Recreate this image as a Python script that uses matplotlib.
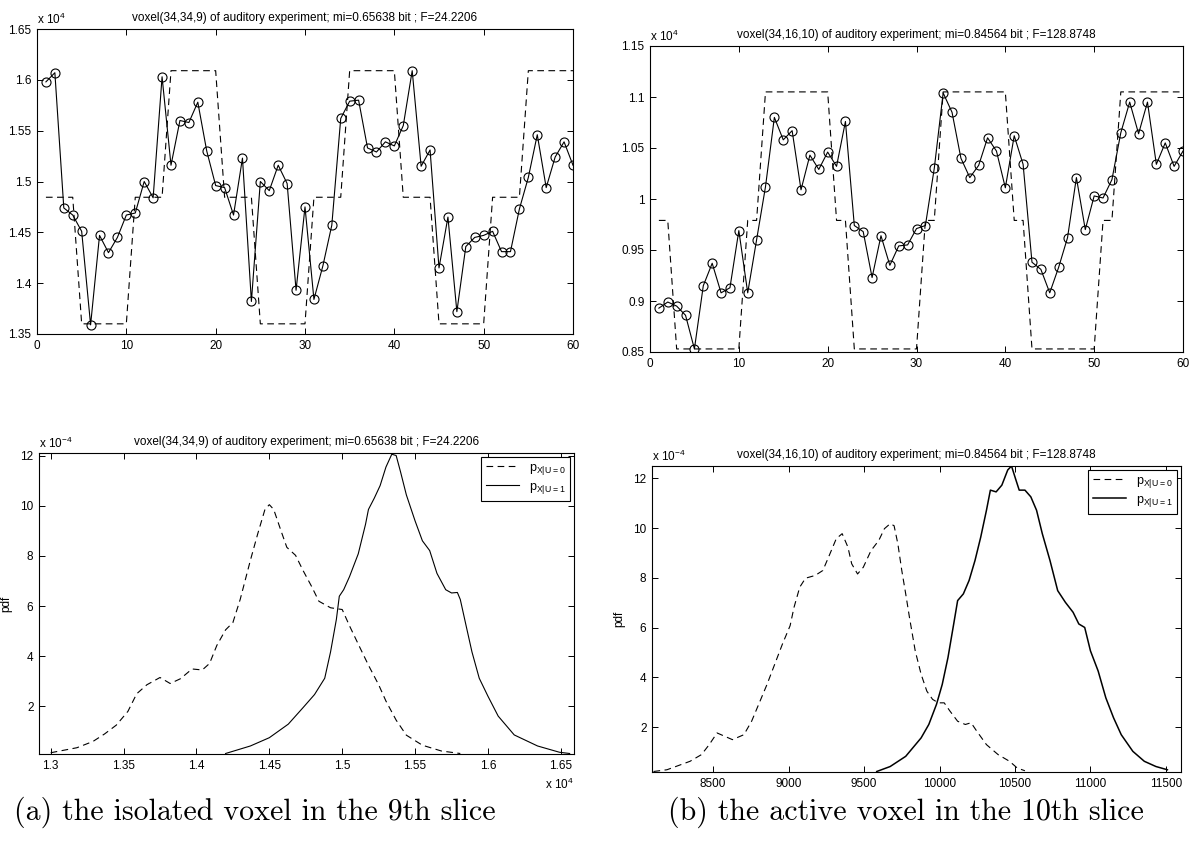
import matplotlib
matplotlib.use('Agg')
import matplotlib.pyplot as plt
from matplotlib.ticker import FuncFormatter, MultipleLocator

# ---------------- data ----------------
scans = list(range(1, 61))

# (a) voxel(34,34,9): time course (x 1e4) and reference function
signal_a = [1.598, 1.607, 1.474, 1.467, 1.451, 1.359, 1.447, 1.430, 1.445, 1.467,
            1.469, 1.500, 1.484, 1.603, 1.516, 1.560, 1.558, 1.578, 1.530, 1.496,
            1.494, 1.467, 1.523, 1.382, 1.500, 1.491, 1.516, 1.498, 1.393, 1.475,
            1.384, 1.417, 1.457, 1.562, 1.579, 1.580, 1.533, 1.529, 1.539, 1.535,
            1.555, 1.609, 1.515, 1.531, 1.415, 1.465, 1.372, 1.436, 1.445, 1.447,
            1.451, 1.431, 1.431, 1.473, 1.504, 1.546, 1.494, 1.524, 1.539, 1.516]
ref_levels_a = [1.3600, 1.4845, 1.6090]
ref_state_a = [1, 1, 1, 1, 0, 0, 0, 0, 0, 0, 1, 1, 1, 1, 2, 2, 2, 2, 2, 2,
               1, 1, 1, 1, 0, 0, 0, 0, 0, 0, 1, 1, 1, 1, 2, 2, 2, 2, 2, 2,
               1, 1, 1, 1, 0, 0, 0, 0, 0, 0, 1, 1, 1, 1, 2, 2, 2, 2, 2, 2]

# (b) voxel(34,16,10)
signal_b = [0.893, 0.899, 0.895, 0.886, 0.853, 0.915, 0.937, 0.908, 0.913, 0.969,
            0.908, 0.960, 1.012, 1.080, 1.058, 1.067, 1.009, 1.043, 1.029, 1.046,
            1.032, 1.076, 0.974, 0.968, 0.923, 0.964, 0.935, 0.954, 0.955, 0.971,
            0.974, 1.030, 1.104, 1.085, 1.040, 1.021, 1.033, 1.060, 1.047, 1.011,
            1.062, 1.034, 0.938, 0.931, 0.908, 0.933, 0.962, 1.021, 0.970, 1.003,
            1.001, 1.019, 1.065, 1.095, 1.064, 1.095, 1.034, 1.055, 1.032, 1.047]
ref_levels_b = [0.853, 0.979, 1.105]
ref_state_b = [1, 1, 0, 0, 0, 0, 0, 0, 0, 0, 1, 1, 2, 2, 2, 2, 2, 2, 2, 2,
               1, 1, 0, 0, 0, 0, 0, 0, 0, 0, 1, 1, 2, 2, 2, 2, 2, 2, 2, 2,
               1, 1, 0, 0, 0, 0, 0, 0, 0, 0, 1, 1, 2, 2, 2, 2, 2, 2, 2, 2]

# pdfs of (a): x in 1e4, pdf in 1e-4
pdf_a0_x = [1.300, 1.318, 1.329, 1.337, 1.345, 1.353, 1.359, 1.366, 1.371, 1.375,
            1.382, 1.389, 1.397, 1.404, 1.409, 1.414, 1.420, 1.425, 1.430, 1.437,
            1.442, 1.447, 1.450, 1.453, 1.458, 1.462, 1.468, 1.473, 1.479, 1.484,
            1.492, 1.500, 1.505, 1.512, 1.518, 1.525, 1.530, 1.537, 1.544, 1.555,
            1.568, 1.581]
pdf_a0_y = [0.15, 0.35, 0.60, 0.90, 1.25, 1.80, 2.50, 2.86, 3.02, 3.15,
            2.91, 3.10, 3.49, 3.45, 3.71, 4.43, 5.05, 5.34, 6.26, 7.82,
            8.87, 9.85, 10.04, 9.85, 9.00, 8.34, 8.02, 7.43, 6.78, 6.19,
            5.93, 5.86, 5.21, 4.36, 3.64, 2.86, 2.21, 1.45, 0.85, 0.45,
            0.22, 0.12]
pdf_a1_x = [1.420, 1.437, 1.450, 1.463, 1.473, 1.481, 1.488, 1.492, 1.496, 1.498,
            1.501, 1.505, 1.511, 1.516, 1.518, 1.522, 1.526, 1.530, 1.534, 1.537,
            1.540, 1.544, 1.550, 1.555, 1.560, 1.565, 1.571, 1.575, 1.579, 1.581,
            1.585, 1.589, 1.594, 1.600, 1.607, 1.618, 1.634, 1.649, 1.656]
pdf_a1_y = [0.12, 0.42, 0.75, 1.29, 1.94, 2.47, 3.12, 4.17, 5.47, 6.39,
            6.65, 7.17, 8.08, 9.26, 9.85, 10.30, 10.80, 11.54, 12.05, 12.00,
            11.35, 10.43, 9.39, 8.60, 8.21, 7.30, 6.65, 6.52, 6.54, 6.26,
            5.21, 4.17, 3.12, 2.40, 1.61, 0.86, 0.42, 0.17, 0.12]

# pdfs of (b): x raw, pdf in 1e-4
pdf_b0_x = [8105, 8194, 8347, 8423, 8474, 8526, 8628, 8704, 8755, 8806,
            8857, 8908, 8959, 9010, 9036, 9074, 9112, 9176, 9227, 9265,
            9316, 9355, 9393, 9418, 9457, 9495, 9546, 9597, 9635, 9673,
            9699, 9724, 9750, 9776, 9801, 9839, 9878, 9916, 9954, 9992,
            10031, 10069, 10120, 10171, 10209, 10247, 10311, 10388, 10464, 10515,
            10566]
pdf_b0_y = [0.22, 0.29, 0.63, 0.90, 1.30, 1.77, 1.50, 1.70, 2.24, 2.98,
            3.72, 4.53, 5.34, 6.08, 6.82, 7.63, 7.99, 8.10, 8.30, 8.84,
            9.58, 9.78, 9.24, 8.57, 8.16, 8.43, 9.10, 9.50, 9.98, 10.18,
            10.10, 9.37, 8.30, 7.36, 6.41, 5.07, 4.13, 3.45, 3.12, 2.98,
            2.98, 2.65, 2.24, 2.11, 2.18, 1.84, 1.30, 0.90, 0.63, 0.36,
            0.25]
pdf_b1_x = [9584, 9673, 9776, 9878, 9929, 9980, 10018, 10056, 10094, 10120,
            10158, 10196, 10235, 10273, 10311, 10337, 10375, 10413, 10452, 10477,
            10503, 10528, 10566, 10605, 10643, 10681, 10732, 10783, 10834, 10885,
            10923, 10962, 11000, 11051, 11102, 11153, 11204, 11281, 11357, 11434,
            11510]
pdf_b1_y = [0.22, 0.42, 0.83, 1.57, 2.11, 2.92, 3.72, 4.80, 6.15, 7.09,
            7.36, 7.90, 8.70, 9.64, 10.72, 11.53, 11.46, 11.73, 12.34, 12.50,
            12.00, 11.53, 11.53, 11.26, 10.72, 9.78, 8.70, 7.49, 7.02, 6.62,
            6.15, 6.01, 5.07, 4.26, 3.18, 2.38, 1.70, 1.03, 0.63, 0.42,
            0.29]

title_a = 'voxel(34,34,9) of auditory experiment; mi=0.65638 bit ; F=24.2206'
title_b = 'voxel(34,16,10) of auditory experiment; mi=0.84564 bit ; F=128.8748'
caption_a = '(a) the isolated voxel in the 9th slice'
caption_b = '(b) the active voxel in the 10th slice'
legend_labels = [r'p$_{\mathregular{X|U=0}}$', r'p$_{\mathregular{X|U=1}}$']

# ---------------- drawing ----------------
plt.rcParams['font.family'] = ['Liberation Sans', 'DejaVu Sans']
plt.rcParams['mathtext.fontset'] = 'custom'
plt.rcParams['mathtext.rm'] = 'Liberation Sans'
W, H = 1195, 842
fig = plt.figure(figsize=(W / 100, H / 100), dpi=100)

def px_axes(l, r, t, b):
    return fig.add_axes([l / W, 1 - b / H, (r - l) / W, (b - t) / H])

fmt = FuncFormatter(lambda v, p: f'{round(v, 6):g}')
DASH = (0, (6, 4))
FS = 8.5

def style(ax):
    ax.tick_params(direction='in', top=True, right=True, length=4, width=0.7,
                   labelsize=FS, pad=4)
    for s in ax.spines.values():
        s.set_linewidth(0.8)
    ax.xaxis.set_major_formatter(fmt)
    ax.yaxis.set_major_formatter(fmt)

# top-left
ax1 = px_axes(37, 573, 29, 334)
ax1.plot(scans, [ref_levels_a[s] for s in ref_state_a], color='k', lw=0.8, linestyle=DASH)
ax1.plot(scans, signal_a, color='k', lw=0.8, marker='o', ms=6.5, mfc='none', mew=0.8)
ax1.set_xlim(0, 60)
ax1.set_ylim(1.35, 1.65)
ax1.xaxis.set_major_locator(MultipleLocator(10))
ax1.yaxis.set_major_locator(MultipleLocator(0.05))
style(ax1)
ax1.set_title(title_a, fontsize=FS, pad=6)
ax1.text(0, 1.005, r'x 10$^{\mathregular{4}}$', transform=ax1.transAxes, ha='left', va='bottom', fontsize=FS)

# top-right
ax2 = px_axes(650, 1183, 46, 352)
ax2.plot(scans, [ref_levels_b[s] for s in ref_state_b], color='k', lw=0.8, linestyle=DASH)
ax2.plot(scans, signal_b, color='k', lw=0.8, marker='o', ms=6.5, mfc='none', mew=0.8)
ax2.set_xlim(0, 60)
ax2.set_ylim(0.85, 1.15)
ax2.xaxis.set_major_locator(MultipleLocator(10))
ax2.yaxis.set_major_locator(MultipleLocator(0.05))
style(ax2)
ax2.set_title(title_b, fontsize=FS, pad=6)
ax2.text(0, 1.005, r'x 10$^{\mathregular{4}}$', transform=ax2.transAxes, ha='left', va='bottom', fontsize=FS)

# bottom-left
ax3 = px_axes(39, 574, 453, 754)
ax3.plot(pdf_a0_x, pdf_a0_y, color='k', lw=0.8, linestyle=DASH, label=legend_labels[0])
ax3.plot(pdf_a1_x, pdf_a1_y, color='k', lw=0.8, label=legend_labels[1])
ax3.set_xlim(1.292, 1.659)
ax3.set_ylim(0.1, 12.1)
ax3.xaxis.set_major_locator(MultipleLocator(0.05))
ax3.set_yticks([2, 4, 6, 8, 10, 12])
style(ax3)
ax3.set_title(title_a, fontsize=FS, pad=6)
ax3.set_ylabel('pdf', fontsize=FS, labelpad=6)
ax3.text(0, 1.005, r'x 10$^{\mathregular{-4}}$', transform=ax3.transAxes, ha='left', va='bottom', fontsize=FS)
ax3.text(1.0, -0.075, r'x 10$^{\mathregular{4}}$', transform=ax3.transAxes, ha='right', va='top', fontsize=FS)
leg = ax3.legend(loc='upper right', fontsize=9, fancybox=False, edgecolor='k',
                 framealpha=1, handlelength=2.6, borderaxespad=0.3, borderpad=0.4,
                 labelspacing=0.3)
leg.get_frame().set_linewidth(0.8)

# bottom-right
ax4 = px_axes(652, 1181, 466, 772)
ax4.plot(pdf_b0_x, pdf_b0_y, color='k', lw=0.8, linestyle=DASH, label=legend_labels[0])
ax4.plot(pdf_b1_x, pdf_b1_y, color='k', lw=1.1, label=legend_labels[1])
ax4.set_xlim(8095, 11600)
ax4.set_ylim(0.2, 12.5)
ax4.xaxis.set_major_locator(MultipleLocator(500))
ax4.set_yticks([2, 4, 6, 8, 10, 12])
style(ax4)
ax4.set_title(title_b, fontsize=FS, pad=6)
ax4.set_ylabel('pdf', fontsize=FS, labelpad=6)
ax4.text(0, 1.005, r'x 10$^{\mathregular{-4}}$', transform=ax4.transAxes, ha='left', va='bottom', fontsize=FS)
leg = ax4.legend(loc='upper right', fontsize=9, fancybox=False, edgecolor='k',
                 framealpha=1, handlelength=2.6, borderaxespad=0.3, borderpad=0.4,
                 labelspacing=0.3)
leg.get_frame().set_linewidth(0.8)

# captions
fig.text(255 / W, 1 - 812 / H, caption_a, fontsize=21.5, family='cmr10', ha='center', va='center')
fig.text(906 / W, 1 - 812 / H, caption_b, fontsize=21.5, family='cmr10', ha='center', va='center')

fig.savefig('out.png', dpi=100)
